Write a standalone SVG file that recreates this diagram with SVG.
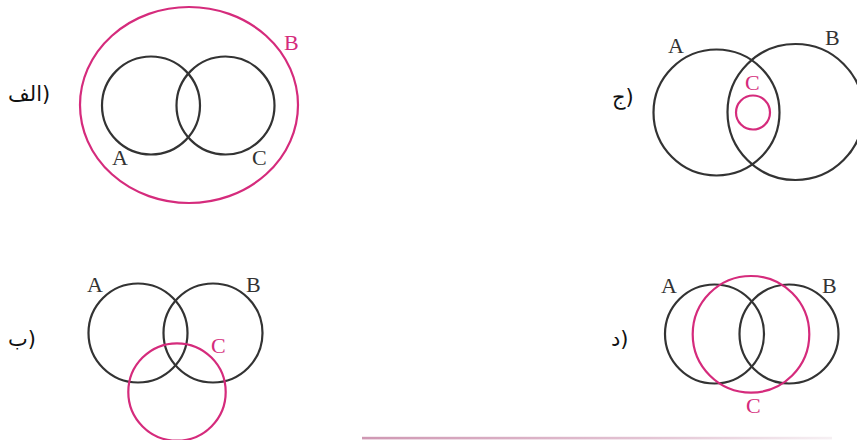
<svg xmlns="http://www.w3.org/2000/svg" width="857" height="440" viewBox="0 0 857 440">
<style>
.k{fill:none;stroke:#333;stroke-width:2.2}
.p{fill:none;stroke:#d52b7c;stroke-width:2.2}
.t{font-family:"Liberation Serif","Times New Roman",serif;font-size:22px;fill:#333}
.tp{font-family:"Liberation Serif","Times New Roman",serif;font-size:22px;fill:#d52b7c}
.ar{font-family:"DejaVu Sans","Noto Sans",sans-serif;font-size:21px;fill:#111;direction:ltr}
</style>
<defs>
<linearGradient id="g" x1="0" x2="1" y1="0" y2="0">
<stop offset="0" stop-color="#cf98b3"/>
<stop offset="0.6" stop-color="#e3c3d3"/>
<stop offset="1" stop-color="#f6f0f3"/>
</linearGradient>
</defs>
<g id="panel-alef">
<text class="ar" x="8" y="101">الف)</text>
<ellipse id="alef-B" class="p" cx="189" cy="105" rx="109" ry="98"/>
<circle id="alef-A" class="k" cx="151" cy="105.5" r="49"/>
<circle id="alef-C" class="k" cx="225.5" cy="105.5" r="49"/>
<text class="t" x="112" y="165">A</text>
<text class="t" x="252" y="165">C</text>
<text class="tp" x="284" y="50">B</text>
</g>
<g id="panel-jim">
<text class="ar" x="612" y="104">ج)</text>
<circle id="jim-A" class="k" cx="716.5" cy="112.5" r="63"/>
<circle id="jim-B" class="k" cx="795.5" cy="112" r="68"/>
<circle id="jim-C" class="p" cx="753" cy="112.5" r="17"/>
<text class="t" x="668" y="53">A</text>
<text class="t" x="825" y="45">B</text>
<text class="tp" x="745" y="90">C</text>
</g>
<g id="panel-be">
<text class="ar" x="8" y="346">ب)</text>
<circle id="be-A" class="k" cx="138" cy="333" r="49.5"/>
<circle id="be-B" class="k" cx="213" cy="333" r="49.5"/>
<circle id="be-C" class="p" cx="177" cy="392" r="48.7"/>
<text class="t" x="87" y="292">A</text>
<text class="t" x="246" y="292">B</text>
<text class="tp" x="211" y="353">C</text>
</g>
<g id="panel-dal">
<text class="ar" x="611" y="346">د)</text>
<circle id="dal-A" class="k" cx="714.5" cy="334" r="49.5"/>
<circle id="dal-B" class="k" cx="789" cy="334" r="49.5"/>
<circle id="dal-C" class="p" cx="751" cy="334.3" r="58.3"/>
<text class="t" x="661" y="293">A</text>
<text class="t" x="822" y="293">B</text>
<text class="tp" x="746" y="413">C</text>
</g>
<g id="connectors"></g>
<rect x="362" y="436.8" width="470" height="2.6" fill="url(#g)"/>
</svg>
